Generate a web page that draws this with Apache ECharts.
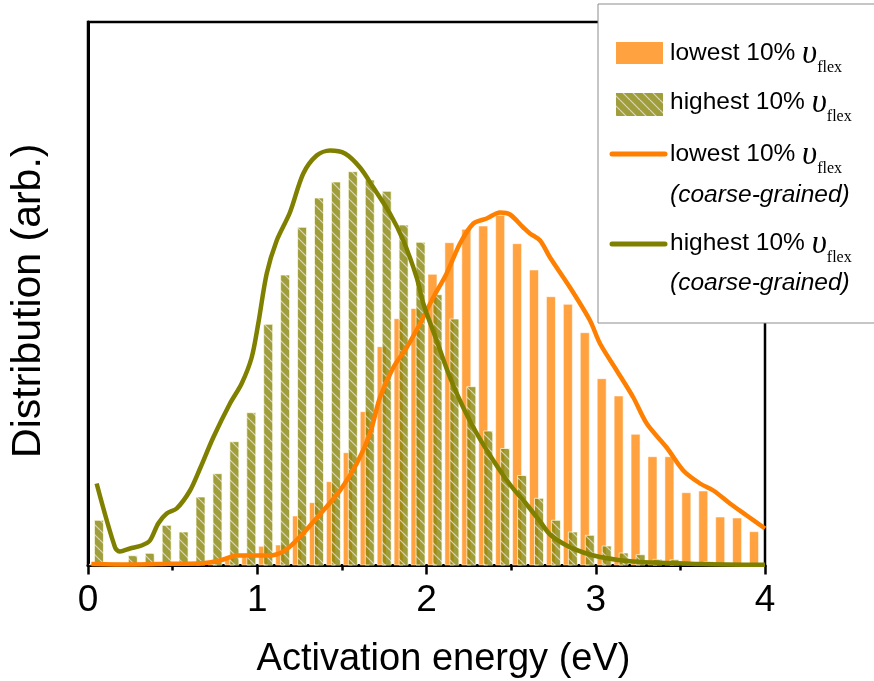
<!DOCTYPE html>
<html>
<head>
<meta charset="utf-8">
<script src="https://cdn.jsdelivr.net/npm/echarts@6/dist/echarts.min.js"></script>
<style>
  html, body { margin: 0; padding: 0; background: #fff; }
  #chart { width: 874px; height: 681px; }
</style>
</head>
<body>
<div id="chart"></div>
<script>
// Histogram bin centres (eV)
const binCenters = [0.05, 0.15, 0.25, 0.35, 0.45, 0.55, 0.65, 0.75, 0.85, 0.95,
                    1.05, 1.15, 1.25, 1.35, 1.45, 1.55, 1.65, 1.75, 1.85, 1.95,
                    2.05, 2.15, 2.25, 2.35, 2.45, 2.55, 2.65, 2.75, 2.85, 2.95,
                    3.05, 3.15, 3.25, 3.35, 3.45, 3.55, 3.65, 3.75, 3.85, 3.95];

// Distribution of the lowest 10% flexibility sites (arb. units)
const lowestCounts = [2, 1, 1, 1, 1, 1.5, 2, 3.3, 7.7, 12.3,
                      19.7, 21, 50, 63.3, 84.3, 113.3, 154.3, 219.3, 247.3, 257.5,
                      291.7, 323.3, 336.7, 340, 350.7, 322.3, 296, 269.3, 261.7, 233.3,
                      187.3, 170, 131.7, 109.3, 109.3, 73.3, 75, 49, 48, 34.3];

// Distribution of the highest 10% flexibility sites (arb. units)
const highestCounts = [45.7, 3.3, 10.3, 12.7, 40.7, 34, 69, 92.3, 124.3, 153.3,
                       241.7, 291, 338.7, 368, 384, 394.3, 386, 374.7, 341, 323.7,
                       271.3, 247, 179.3, 135, 117.5, 90.5, 67.7, 45.7, 34, 30.7,
                       20, 13, 11.3, 6.7, 6.3, 3, 4.3, 1.5, 1, 1];

// Coarse-grained curves
const lowestCurveX = [0.02, 0.25, 0.485, 0.679, 0.78, 0.879, 0.977, 1.075, 1.154, 1.213,
                      1.253, 1.292, 1.39, 1.489, 1.588, 1.666, 1.725, 1.804, 1.883, 1.962,
                      2.04, 2.119, 2.198, 2.277, 2.356, 2.434, 2.493, 2.572, 2.611, 2.671,
                      2.73, 2.848, 2.966, 3.025, 3.124, 3.222, 3.301, 3.419, 3.517, 3.616,
                      3.695, 3.793, 3.892, 4.0];
const lowestCurveY = [1.5, 1, 1.7, 2.3, 5, 10, 10, 10, 14, 22,
                      29, 36, 55, 75, 102, 132, 168, 198, 218, 242,
                      268, 292, 322, 342, 347, 353, 351, 338, 332, 325,
                      308, 278, 245, 222, 195, 168, 142, 118, 95, 82,
                      75, 62, 50, 37];

const highestCurveX = [0.051, 0.16, 0.189, 0.248, 0.317, 0.366, 0.415, 0.465, 0.524, 0.603,
                       0.662, 0.74, 0.839, 0.908, 0.967, 1.006, 1.056, 1.115, 1.193, 1.272,
                       1.351, 1.43, 1.518, 1.607, 1.686, 1.784, 1.863, 1.942, 1.981, 2.06,
                       2.139, 2.217, 2.297, 2.395, 2.493, 2.592, 2.671, 2.73, 2.828, 2.927,
                       3.025, 3.22, 3.616, 4.0];
const highestCurveY = [82, 18, 14, 17, 20, 25, 42, 52, 57, 75,
                       97, 128, 162, 182, 208, 242, 292, 325, 353, 392,
                       410, 415, 412, 398, 378, 352, 325, 288, 262, 225,
                       188, 158, 132, 105, 81, 61, 44, 31, 20, 13,
                       8.5, 4, 1.5, 0.7];

const xTicks = [0, 1, 2, 3, 4];

const pairs = (xs, ys) => xs.map((x, i) => [x, ys[i]]);

// Diagonal white hatch on an olive ground
function hatchCanvas(bg, size) {
  const c = document.createElement('canvas');
  c.width = size; c.height = size;
  const g = c.getContext('2d');
  g.fillStyle = bg;
  g.fillRect(0, 0, size, size);
  g.strokeStyle = 'rgba(255,255,255,0.6)';
  g.lineWidth = 1.2;
  for (const k of [-1, 0, 1]) {
    g.beginPath();
    g.moveTo(k * size, 0);
    g.lineTo(k * size + size, size);
    g.stroke();
  }
  return c;
}

const ORANGE_BAR = '#FFA23F';
const ORANGE_LINE = '#FF7F00';
const OLIVE_LINE = '#808000';
const hatch = { image: hatchCanvas('rgba(136,134,11,0.8)', 10), repeat: 'repeat' };

const SANS = 'Liberation Sans';
const SERIF = 'Liberation Serif';

const legendRich = {
  t: { fontFamily: SANS, fontSize: 24.5, lineHeight: 30, fill: '#000' },
  u: { fontFamily: SERIF, fontStyle: 'italic', fontSize: 33, lineHeight: 30, fill: '#000', padding: [2, 0, 0, 0] },
  s: { fontFamily: SERIF, fontSize: 16, lineHeight: 16, padding: [28, 0, 0, 0], fill: '#000' },
  i: { fontFamily: SANS, fontStyle: 'italic', fontSize: 24.5, lineHeight: 50, fill: '#000' }
};

const chart = echarts.init(document.getElementById('chart'), null, { renderer: 'canvas' });

chart.setOption({
  animation: false,
  backgroundColor: '#fff',
  grid: {
    left: 88, right: 109, top: 22, bottom: 115.5,
    containLabel: false, outerBoundsMode: 'none',
    show: true, borderColor: '#000', borderWidth: 2.5, backgroundColor: 'transparent'
  },
  xAxis: {
    type: 'value', min: xTicks[0], max: xTicks[xTicks.length - 1], interval: 1,
    axisLine: { show: true, onZero: false, lineStyle: { color: '#000', width: 3 } },
    axisTick: { show: true, inside: false, length: 9, lineStyle: { color: '#000', width: 2.5 } },
    minorTick: { show: true, splitNumber: 2, length: 5, lineStyle: { color: '#000', width: 2.5 } },
    splitLine: { show: false },
    minorSplitLine: { show: false },
    axisLabel: { color: '#000', fontFamily: SANS, fontSize: 37, margin: 17 },
    name: 'Activation energy (eV)',
    nameLocation: 'middle',
    nameGap: 75,
    nameTextStyle: { color: '#000', fontFamily: SANS, fontSize: 38, padding: [0, 0, 0, 34] }
  },
  yAxis: {
    type: 'value', min: 0, max: 543.5,
    axisLine: { show: true, lineStyle: { color: '#000', width: 3 } },
    axisTick: { show: false },
    axisLabel: { show: false },
    splitLine: { show: false },
    name: 'Distribution (arb.)',
    nameLocation: 'middle',
    nameGap: 39,
    nameTextStyle: { color: '#000', fontFamily: SANS, fontSize: 41, padding: [0, 14, 0, 0] }
  },
  series: [
    {
      name: 'lowest 10%',
      type: 'bar',
      data: pairs(binCenters, lowestCounts),
      barWidth: 10,
      barGap: '-50%',
      itemStyle: { color: ORANGE_BAR, borderColor: 'rgba(255,255,255,0.55)', borderWidth: 1 }
    },
    {
      name: 'highest 10%',
      type: 'bar',
      data: pairs(binCenters, highestCounts),
      barWidth: 10,
      barGap: '-50%',
      itemStyle: { color: hatch, borderColor: 'rgba(255,255,230,0.7)', borderWidth: 1 }
    },
    {
      name: 'lowest 10% (coarse-grained)',
      type: 'line',
      data: pairs(lowestCurveX, lowestCurveY),
      smooth: 0.3,
      symbol: 'none',
      lineStyle: { color: ORANGE_LINE, width: 4.5 }
    },
    {
      name: 'highest 10% (coarse-grained)',
      type: 'line',
      data: pairs(highestCurveX, highestCurveY),
      smooth: 0.3,
      symbol: 'none',
      lineStyle: { color: OLIVE_LINE, width: 4.5 }
    }
  ],
  graphic: [
    { type: 'rect', z: 100, shape: { x: 598, y: 4, width: 300, height: 319 },
      style: { fill: '#fff', stroke: '#8c8c8c', lineWidth: 1 } },
    { type: 'rect', z: 101, shape: { x: 616, y: 42, width: 47, height: 22 },
      style: { fill: ORANGE_BAR } },
    { type: 'rect', z: 101, shape: { x: 616, y: 93, width: 47, height: 23 },
      style: { fill: hatch } },
    { type: 'line', z: 101, shape: { x1: 612, y1: 154, x2: 665, y2: 154 },
      style: { stroke: ORANGE_LINE, lineWidth: 5, lineCap: 'round' } },
    { type: 'line', z: 101, shape: { x1: 612, y1: 244, x2: 665, y2: 244 },
      style: { stroke: OLIVE_LINE, lineWidth: 5, lineCap: 'round' } },
    { type: 'text', z: 101, x: 670, y: 38.7,
      style: { text: '{t|lowest 10% }{u|υ}{s|flex}', rich: legendRich, verticalAlign: 'top' } },
    { type: 'text', z: 101, x: 670, y: 87.7,
      style: { text: '{t|highest 10% }{u|υ}{s|flex}', rich: legendRich, verticalAlign: 'top' } },
    { type: 'text', z: 101, x: 670, y: 139.7,
      style: { text: '{t|lowest 10% }{u|υ}{s|flex}\n{i|(coarse-grained)}', rich: legendRich, verticalAlign: 'top' } },
    { type: 'text', z: 101, x: 670, y: 228.4,
      style: { text: '{t|highest 10% }{u|υ}{s|flex}\n{i|(coarse-grained)}', rich: legendRich, verticalAlign: 'top' } }
  ]
});
</script>
</body>
</html>
